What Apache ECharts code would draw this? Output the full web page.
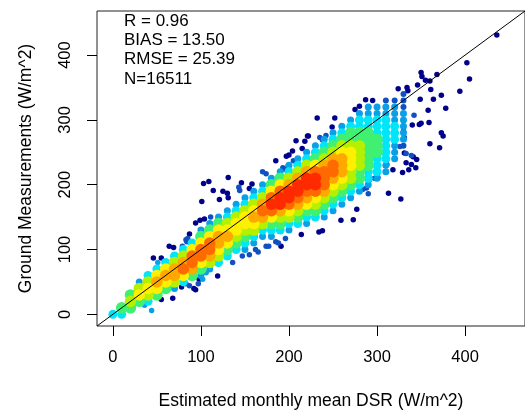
<!DOCTYPE html>
<html>
<head>
<meta charset="utf-8">
<script src="https://cdn.jsdelivr.net/npm/echarts@6/dist/echarts.min.js"></script>
<style>
  html, body { margin: 0; padding: 0; background: #fff; }
  #chart { width: 525px; height: 415px; }
</style>
</head>
<body>
<div id="chart"></div>
<script>
// density cloud: one column every 10 W/m^2 on x,
// rows every 10 W/m^2 on y starting at cloudY0, value = density level (1 low .. 10 high)
var cloudX = [0, 10, 20, 30, 40, 50, 60, 70, 80, 90, 100, 110, 120, 130, 140, 150, 160, 170,
              180, 190, 200, 210, 220, 230, 240, 250, 260, 270, 280, 290, 300, 310, 320, 330];
var cloudY0 = [0, 0, 10, 20, 20, 30, 40, 40, 50, 60, 60, 70, 80, 90, 100, 100, 110, 120,
               120, 130, 130, 140, 140, 150, 150, 160, 170, 180, 190, 200, 210, 220, 240, 260];
var cloudLevels = [
  [4],
  [4, 5],
  [5, 6, 5],
  [5, 7, 6, 3],
  [4, 6, 7, 6, 4],
  [5, 7, 8, 7, 4],
  [5, 7, 8, 7, 4],
  [3, 6, 8, 8, 6, 4],
  [4, 7, 9, 8, 6, 4],
  [5, 8, 9, 9, 7, 4],
  [3, 5, 7, 9, 9, 7, 5, 3],
  [3, 6, 8, 9, 9, 7, 5, 3],
  [4, 6, 7, 8, 8, 7, 5, 3],
  [4, 5, 7, 8, 7, 6, 4, 3],
  [4, 5, 6, 7, 7, 6, 4, 3],
  [3, 4, 5, 6, 7, 7, 6, 4, 3],
  [3, 4, 6, 7, 8, 7, 6, 4, 3],
  [3, 4, 6, 8, 9, 8, 6, 4, 3],
  [3, 4, 5, 7, 9, 10, 9, 7, 5, 3],
  [4, 5, 6, 8, 10, 10, 9, 7, 5, 3],
  [3, 4, 6, 7, 9, 10, 10, 8, 6, 4, 3],
  [4, 5, 6, 8, 9, 10, 10, 8, 6, 4, 3],
  [3, 4, 5, 7, 8, 9, 10, 10, 8, 6, 4, 3],
  [4, 5, 6, 7, 9, 10, 10, 9, 7, 5, 4, 3],
  [3, 4, 5, 6, 8, 9, 9, 9, 8, 6, 5, 4, 3],
  [3, 4, 5, 6, 7, 8, 9, 9, 8, 6, 5, 4, 3],
  [3, 4, 5, 6, 7, 8, 8, 8, 7, 6, 5, 4, 3],
  [3, 4, 5, 6, 6, 7, 7, 7, 6, 5, 5, 4, 3],
  [3, 4, 5, 5, 6, 6, 6, 6, 5, 5, 4, 4, 3],
  [3, 4, 4, 5, 5, 5, 5, 5, 5, 4, 4, 3, 3],
  [3, 4, 4, 4, 5, 5, 5, 4, 4, 4, 3, 3],
  [3, 3, 4, 4, 4, 4, 4, 4, 4, 3, 3, 2],
  [3, 3, 3, 4, 4, 4, 3, 3, 3, 2],
  [2, 3, 3, 3, 3, 3, 2, 2, 2]
];

// single scattered points [estimated, ground, level]
var sparsePoints = [
  [436, 431, 1], [402, 388, 1], [405, 363, 1], [394, 344, 1], [373, 338, 1], [378, 318, 1],
  [368, 370, 1], [350, 373, 1], [351, 367, 1], [355, 361, 1], [360, 360, 1], [361, 347, 1],
  [364, 332, 1], [358, 315, 1], [359, 296, 1], [346, 354, 1], [349, 332, 1], [324, 348, 1],
  [334, 350, 1], [335, 345, 1], [350, 295, 1], [348, 293, 1], [340, 292, 1], [373, 280, 1],
  [375, 275, 1], [360, 263, 1], [371, 257, 1], [331, 249, 1], [341, 243, 1], [345, 239, 1],
  [333, 234, 1], [339, 231, 1], [344, 226, 1], [336, 223, 1], [329, 219, 1], [318, 223, 1],
  [311, 231, 1], [313, 187, 1], [327, 178, 1], [277, 162, 1], [259, 145, 1], [273, 146, 1],
  [234, 127, 1], [238, 129, 1], [214, 123, 1], [287, 331, 1], [295, 330, 1], [275, 316, 1],
  [280, 321, 1], [232, 303, 1], [252, 303, 1], [249, 289, 1], [222, 275, 1], [103, 202, 1],
  [109, 205, 1], [114, 191, 1], [101, 174, 1], [131, 211, 1], [125, 190, 1], [130, 187, 1],
  [131, 180, 1], [121, 177, 1], [146, 203, 1], [185, 237, 1], [94, 141, 1], [99, 145, 1],
  [104, 147, 1], [87, 124, 1], [64, 105, 1], [69, 103, 1], [46, 87, 1], [55, 87, 1],
  [92, 40, 1], [98, 54, 1], [55, 23, 1], [68, 25, 1], [119, 59, 1], [191, 105, 1],
  [158, 201, 1], [155, 194, 1], [208, 268, 1], [218, 267, 1], [221, 275, 1], [215, 256, 1],
  [204, 252, 1], [200, 246, 1], [197, 244, 1], [94, 38, 1], [78, 42, 1],
  [342, 307, 2], [284, 193, 2], [288, 195, 2], [290, 186, 2], [174, 217, 2], [170, 220, 2],
  [195, 224, 2], [199, 229, 2], [205, 237, 2], [174, 105, 2], [185, 112, 2], [165, 96, 2],
  [143, 196, 2], [144, 191, 2], [111, 150, 2], [83, 115, 2], [79, 105, 2], [136, 80, 2],
  [147, 90, 2], [155, 92, 2], [162, 100, 2], [177, 105, 2], [188, 110, 2], [196, 117, 2],
  [193, 226, 2], [235, 273, 2], [238, 269, 2], [242, 276, 2], [330, 283, 2], [331, 273, 2],
  [326, 259, 2], [333, 248, 2], [339, 245, 2], [85, 117, 2], [84, 112, 2], [97, 47, 2],
  [87, 44, 2], [83, 47, 2], [291, 207, 2], [297, 210, 2], [301, 211, 2],
  [51, 80, 3], [41, 20, 3], [36, 14, 3], [44, 6, 3], [31, 24, 3], [102, 54, 3], [106, 64, 3],
  [100, 59, 3]
];

var axisTicks = [0, 100, 200, 300, 400];
var statsText = ['R = 0.96', 'BIAS = 13.50', 'RMSE = 25.39', 'N=16511'];
var levelColors = ['#00008b', '#1050c0', '#0aa0e6', '#00e6f8', '#40f070',
                   '#b4f000', '#fff000', '#ffa800', '#ff6a00', '#ff2a00'];

var cloud = [];
cloudX.forEach(function (x, i) {
  cloudLevels[i].forEach(function (lv, j) {
    cloud.push([x, cloudY0[i] + j * 10, lv]);
  });
});
cloud.sort(function (a, b) { return a[2] - b[2]; });

var chart = echarts.init(document.getElementById('chart'), null, { renderer: 'canvas' });
var font = 'Liberation Sans, Arial, Helvetica, sans-serif';

var option = {
  animation: false,
  backgroundColor: '#ffffff',
  grid: {
    left: 97, top: 11, width: 431, height: 320,
    show: true, borderColor: '#222', borderWidth: 1, backgroundColor: 'transparent'
  },
  xAxis: {
    type: 'value', min: -18, max: 468,
    name: 'Estimated monthly mean DSR (W/m^2)',
    nameLocation: 'middle', nameGap: 66,
    nameTextStyle: { fontFamily: font, fontSize: 17.5, color: '#000' },
    axisLine: { show: false, onZero: false },
    axisTick: { show: true, inside: false, length: 10, customValues: axisTicks, lineStyle: { color: '#000' } },
    axisLabel: { customValues: axisTicks, margin: 23, fontFamily: font, fontSize: 16.5, color: '#000' },
    splitLine: { show: false }
  },
  yAxis: {
    type: 'value', min: -18, max: 468,
    name: 'Ground Measurements (W/m^2)',
    nameLocation: 'middle', nameGap: 62,
    nameTextStyle: { fontFamily: font, fontSize: 17.5, color: '#000' },
    axisLine: { show: false, onZero: false },
    axisTick: { show: true, inside: false, length: 10, customValues: axisTicks, lineStyle: { color: '#000' } },
    axisLabel: { customValues: axisTicks, rotate: 90, margin: 23, fontFamily: font, fontSize: 16.5, color: '#000' },
    splitLine: { show: false }
  },
  visualMap: {
    show: false, type: 'continuous', min: 1, max: 10, dimension: 2,
    seriesIndex: [0, 1],
    inRange: { color: levelColors }
  },
  graphic: statsText.map(function (t, i) {
    return {
      type: 'text', x: 124, y: 21 + i * 19.4,
      style: { text: t, font: '17px ' + font, fill: '#000', verticalAlign: 'middle' }
    };
  }),
  series: [
    {
      type: 'scatter',
      data: sparsePoints,
      symbol: 'circle',
      symbolSize: 5.5,
      itemStyle: { opacity: 1 }
    },
    {
      type: 'scatter',
      data: cloud,
      symbol: 'circle',
      symbolSize: function (v) {
        return v[2] <= 2 ? 6 : (v[2] === 3 ? 7 : (v[2] === 4 ? 9 : 11.5));
      },
      itemStyle: { opacity: 1 }
    },
    {
      type: 'line',
      data: [[-18, -18], [468, 468]],
      symbol: 'none',
      lineStyle: { color: '#000', width: 1 },
      z: 5,
      silent: true
    }
  ]
};

chart.setOption(option);
</script>
</body>
</html>
